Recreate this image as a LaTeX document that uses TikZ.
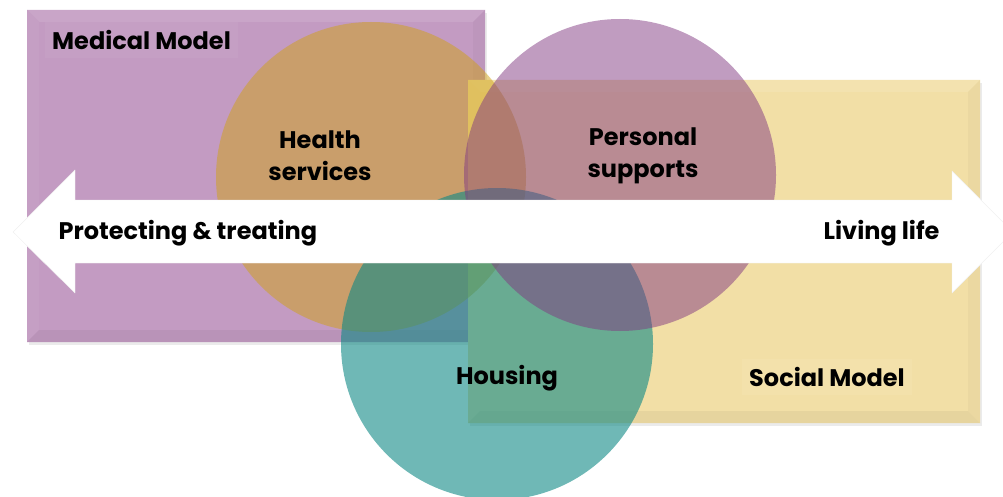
\documentclass[tikz,border=0pt]{standalone}
\usepackage{fontspec}
\setmainfont{Poppins}
\usepackage{xcolor}
\usepackage{tikz}
\usetikzlibrary{positioning}

\definecolor{medcol}{RGB}{195,155,194}
\definecolor{soccol}{RGB}{242,223,166}
\definecolor{healthcol}{RGB}{207,161,21}
\definecolor{perscol}{RGB}{129,57,129}
\definecolor{housecol}{RGB}{15,137,133}

% bevelled panel: x1 y1 x2 y2 colour
\newcommand\bevelbox[5]{%
  \fill[black!8] (#1+2,#2+3) rectangle (#3+2,#4+3);
  \fill[#5] (#1,#2) rectangle (#3,#4);
  \fill[#5!90!white] (#1,#2) -- (#3,#2) -- (#3-12,#2+12) -- (#1+12,#2+12) -- cycle;
  \fill[#5!96!white] (#1,#2) -- (#1+12,#2+12) -- (#1+12,#4-12) -- (#1,#4) -- cycle;
  \fill[#5!95!black] (#1,#4) -- (#1+12,#4-12) -- (#3-12,#4-12) -- (#3,#4) -- cycle;
  \fill[#5!97!black] (#3,#2) -- (#3,#4) -- (#3-12,#4-12) -- (#3-12,#2+12) -- cycle;
}

\begin{document}
\begin{tikzpicture}[x=1pt,y=-1pt,
  every node/.style={font=\bfseries\fontsize{24}{32}\selectfont,text=black,align=center},
  disc/.style={fill opacity=0.5},
  tag/.style={inner xsep=7pt,inner ysep=8pt},
]
\useasboundingbox (0,0) rectangle (1003,497);

% the two models
\bevelbox{27}{10}{485}{342}{medcol}
\bevelbox{468}{80}{980}{423}{soccol}

% the three services
\fill[healthcol,disc] (371,177) circle[radius=155];
\fill[housecol,fill opacity=0.6] (497,344) circle[radius=156];
\fill[perscol,disc] (620,175) circle[radius=156];

% the double arrow across the middle
\fill[white,draw=black!6] (13,232) -- (75,170) -- (75,200) -- (952,200) -- (952,171)
  -- (1013,232) -- (952,293) -- (952,263) -- (75,263) -- (75,293) -- cycle;

\node[tag,fill=medcol!96!white,anchor=west] (med) at (45,40) {Medical Model};
\node[tag,fill=soccol!94!white] (soc) at (827,377) {Social Model};
\node (health) at (320,156) {Health\\services};
\node (pers) at (643,156) {Personal\\supports};
\node (house) at (507,378) {Housing};
\node[anchor=west] (protect) at (55,233) {Protecting \& treating};
\node[anchor=east] (living) at (943,233) {Living life};
\end{tikzpicture}
\end{document}
